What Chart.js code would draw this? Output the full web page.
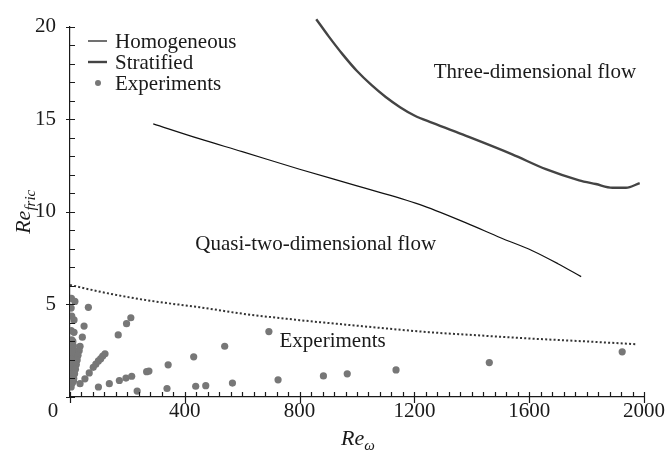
<!DOCTYPE html>
<html><head><meta charset="utf-8">
<script src="https://cdn.jsdelivr.net/npm/chart.js@4.4.0/dist/chart.umd.min.js"></script>
<style>html,body{margin:0;padding:0;background:#fff}#wrap{width:667px;height:461px}</style>
</head><body><div id="wrap"><canvas id="c" width="667" height="461"></canvas></div>
<script>
// ---- data ----
const homogeneousX = [290, 450, 600, 800, 1000, 1217, 1380, 1500, 1611, 1700, 1781];
const homogeneousY = [14.75, 13.95, 13.25, 12.3, 11.4, 10.4, 9.4, 8.6, 7.9, 7.2, 6.5];

const stratifiedX = [858, 900, 950, 1000, 1050, 1100, 1150, 1200, 1263, 1380, 1541, 1658, 1774, 1832, 1890, 1937, 1985];
const stratifiedY = [20.4, 19.5, 18.5, 17.6, 16.85, 16.2, 15.65, 15.2, 14.8, 14.1, 13.1, 12.3, 11.7, 11.5, 11.3, 11.3, 11.55];

const thresholdX = [0, 100, 200, 300, 450, 600, 800, 1000, 1250, 1400, 1600, 1800, 1972];
const thresholdY = [6.05, 5.7, 5.4, 5.15, 4.85, 4.5, 4.15, 3.85, 3.5, 3.35, 3.16, 3.0, 2.85];

const experimentsX = [
  5, 17, 4, 6, 14, 4, 14, 6, 4, 12, 5, 15, 4, 10, 5, 14, 4, 9, 5, 13, 4, 9, 5, 12, 4, 8, 10, 8, 10,
  35, 32, 28, 25, 22, 19, 16, 13,
  35, 52, 67, 81, 90, 99, 107, 114, 122,
  64, 49, 43, 168, 197, 212,
  99, 137, 172, 195, 215, 234,
  267, 275, 342, 338, 431, 438, 473, 539, 566,
  693, 725, 883, 966, 1136, 1461, 1924
];
const experimentsY = [
  5.33, 5.16, 4.8, 4.37, 4.16, 3.58, 3.49, 3.09, 2.9, 2.75, 2.6, 2.5, 2.35, 2.2, 2.05, 1.95, 1.8, 1.65, 1.5, 1.4, 1.25, 1.1, 0.95, 0.85, 0.54, 0.75, 3.0, 2.45, 1.6,
  2.74, 2.5, 2.25, 2.0, 1.75, 1.5, 1.25, 1.0,
  0.72, 0.98, 1.30, 1.6, 1.77, 1.95, 2.07, 2.21, 2.33,
  4.84, 3.83, 3.23, 3.35, 3.96, 4.28,
  0.54, 0.72, 0.89, 1.02, 1.12, 0.32,
  1.37, 1.40, 1.74, 0.46, 2.17, 0.58, 0.61, 2.74, 0.75,
  3.53, 0.93, 1.14, 1.25, 1.46, 1.86, 2.44
];

const xTickLabels = ['0', '400', '800', '1200', '1600', '2000'];
const yTickLabels = ['0', '5', '10', '15', '20'];

const legendLabels = ['Homogeneous', 'Stratified', 'Experiments'];
const regionLabels = [
  {text: 'Three-dimensional flow', x: 1620, y: 17.5},
  {text: 'Quasi-two-dimensional flow', x: 856, y: 8.25},
  {text: 'Experiments', x: 915, y: 3.0}
];

// ---- build ----
const pts = (xs, ys) => xs.map((x, i) => ({x, y: ys[i]}));
const SERIF = '"Liberation Serif", "Times New Roman", serif';
const INK = '#1a1a1a';

const decor = {
  id: 'decor',
  afterDraw(chart) {
    const {ctx, chartArea: a, scales: {x, y}} = chart;
    ctx.save();
    ctx.strokeStyle = INK;
    ctx.lineWidth = 1.2;
    ctx.beginPath();
    for (let v = 0; v <= 2000; v += 40) {
      const px = Math.round(x.getPixelForValue(v)) + 0.5;
      const major = v % 400 === 0;
      ctx.moveTo(px, a.bottom - 5);
      ctx.lineTo(px, a.bottom + (major ? 6 : 0));
    }
    for (let v = 0; v <= 20; v += 1) {
      const py = Math.round(y.getPixelForValue(v)) + 0.5;
      const major = v % 5 === 0;
      ctx.moveTo(a.left - (major ? 4 : 0), py);
      ctx.lineTo(a.left + 5, py);
    }
    ctx.stroke();

    ctx.fillStyle = INK;
    ctx.font = '21px ' + SERIF;
    ctx.textAlign = 'center';
    ctx.textBaseline = 'middle';
    ctx.fillText(xTickLabels[0], x.getPixelForValue(0) - 17, a.bottom + 2 + 12.6);

    const ds = chart.data.datasets;
    const rows = [41, 62, 83];
    ctx.textAlign = 'left';
    ctx.font = '21px ' + SERIF;
    ctx.strokeStyle = ds[1].borderColor; ctx.lineWidth = ds[1].borderWidth;
    ctx.beginPath(); ctx.moveTo(88, rows[0]); ctx.lineTo(107, rows[0]); ctx.stroke();
    ctx.strokeStyle = ds[2].borderColor; ctx.lineWidth = ds[2].borderWidth;
    ctx.beginPath(); ctx.moveTo(88, rows[1]); ctx.lineTo(107, rows[1]); ctx.stroke();
    ctx.fillStyle = ds[0].backgroundColor;
    ctx.beginPath(); ctx.arc(98, rows[2], 3, 0, Math.PI * 2); ctx.fill();
    ctx.fillStyle = INK;
    legendLabels.forEach((t, i) => ctx.fillText(t, 115, rows[i] + 1));

    ctx.textAlign = 'center';
    regionLabels.forEach(r => ctx.fillText(r.text, x.getPixelForValue(r.x), y.getPixelForValue(r.y)));

    const cx = (a.left + a.right) / 2;
    ctx.font = 'italic 22px ' + SERIF;
    ctx.textAlign = 'left';
    ctx.textBaseline = 'alphabetic';
    const wRe = ctx.measureText('Re').width;
    ctx.font = 'italic 15px ' + SERIF;
    const wW = ctx.measureText('ω').width;
    let sx = cx - (wRe + wW) / 2 + 1;
    ctx.font = 'italic 22px ' + SERIF;
    ctx.fillText('Re', sx, 445);
    ctx.font = 'italic 15px ' + SERIF;
    ctx.fillText('ω', sx + wRe, 450);

    ctx.translate(30, (a.top + a.bottom) / 2);
    ctx.rotate(-Math.PI / 2);
    ctx.font = 'italic 22px ' + SERIF;
    const w1 = ctx.measureText('Re').width;
    ctx.font = 'italic 15px ' + SERIF;
    const w2 = ctx.measureText('fric').width;
    sx = -(w1 + w2) / 2;
    ctx.font = 'italic 22px ' + SERIF;
    ctx.fillText('Re', sx, 0);
    ctx.font = 'italic 15px ' + SERIF;
    ctx.fillText('fric', sx + w1, 5);
    ctx.restore();
  }
};

new Chart(document.getElementById('c'), {
  type: 'scatter',
  data: {
    datasets: [
      {label: legendLabels[2], data: pts(experimentsX, experimentsY), showLine: false,
       pointRadius: 3.6, pointBackgroundColor: '#777', backgroundColor: '#777', pointBorderWidth: 0, order: 3},
      {label: legendLabels[0], data: pts(homogeneousX, homogeneousY), showLine: true, pointRadius: 0,
       borderColor: '#111', borderWidth: 1.2, cubicInterpolationMode: 'monotone', fill: false, order: 1},
      {label: legendLabels[1], data: pts(stratifiedX, stratifiedY), showLine: true, pointRadius: 0,
       borderColor: '#444', borderWidth: 2.4, cubicInterpolationMode: 'monotone', fill: false, clip: false, order: 1},
      {label: 'threshold', data: pts(thresholdX, thresholdY), showLine: true, pointRadius: 0,
       borderColor: '#333', borderWidth: 2, borderDash: [2, 2.2], cubicInterpolationMode: 'monotone', fill: false, order: 2}
    ]
  },
  options: {
    responsive: false, animation: false, devicePixelRatio: 1,
    layout: {padding: {left: 0, right: 22, top: 17, bottom: 0}},
    plugins: {legend: {display: false}, tooltip: {enabled: false}},
    scales: {
      x: {
        type: 'linear', min: 0, max: 2000,
        grid: {display: false, drawTicks: false},
        border: {display: true, color: INK, width: 1.2},
        ticks: {stepSize: 400, padding: 2, color: INK, font: {family: SERIF, size: 21},
                callback: (v) => { const i = Math.round(v / 400); return i === 0 ? '' : xTickLabels[i]; }},
        afterFit: s => { s.height = 64; }
      },
      y: {
        type: 'linear', min: 0, max: 20,
        grid: {display: false, drawTicks: false},
        border: {display: true, color: INK, width: 1.2},
        ticks: {stepSize: 5, padding: 14, color: INK, font: {family: SERIF, size: 21},
                callback: (v) => { const i = Math.round(v / 5); return i === 0 ? '' : yTickLabels[i]; }},
        afterFit: s => { s.width = 70; }
      }
    }
  },
  plugins: [decor]
});
</script>
</body></html>
